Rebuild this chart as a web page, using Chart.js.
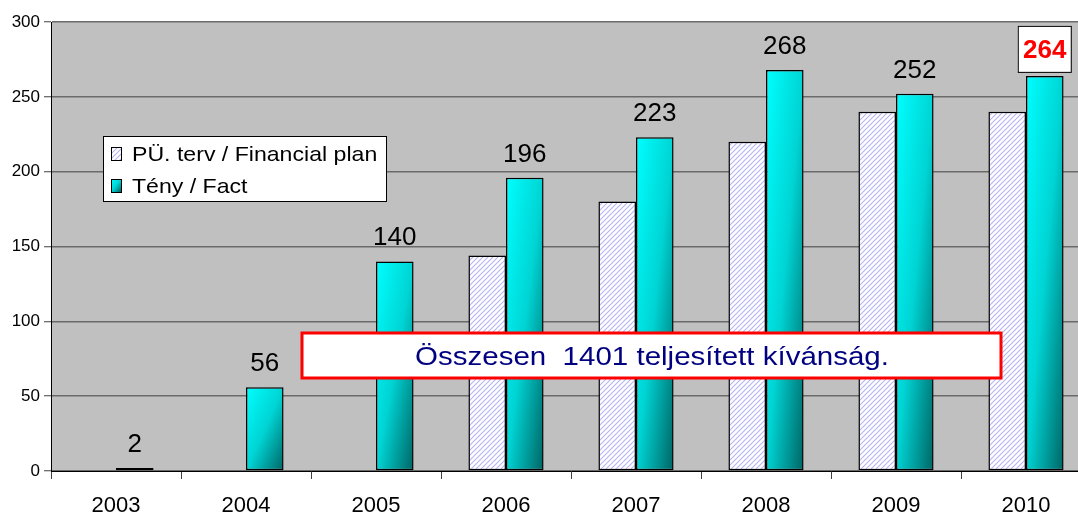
<!DOCTYPE html>
<html>
<head>
<meta charset="utf-8">
<script src="https://cdn.jsdelivr.net/npm/chart.js@4.4.1/dist/chart.umd.min.js"></script>
<style>
    html, body { margin: 0; padding: 0; background: #fff; overflow: hidden; }
    #wrap { width: 1100px; height: 515px; }
</style>
</head>
<body>
<div id="wrap"><canvas id="chart" width="1100" height="515"></canvas></div>
<script>
// Data
const years = ['2003', '2004', '2005', '2006', '2007', '2008', '2009', '2010'];
const planValues = [null, null, null, 144, 180, 220, 240, 240];
const factValues = [2, 56, 140, 196, 223, 268, 252, 264];
const yTicks = [0, 50, 100, 150, 200, 250, 300];
const seriesLabels = ['PÜ. terv / Financial plan', 'Tény / Fact'];
const noteText = 'Összesen  1401 teljesített kívánság.';
const highlightIndex = 7;

const FONT = "'Liberation Sans', Arial, sans-serif";
const CAT_PCT = 0.578;

const canvas = document.getElementById('chart');
const ctx = canvas.getContext('2d');

// Hatch pattern for the plan bars
function makeHatch() {
    const size = 5;
    const tile = document.createElement('canvas');
    tile.width = size;
    tile.height = size;
    const g = tile.getContext('2d');
    g.fillStyle = '#ffffff';
    g.fillRect(0, 0, size, size);
    g.strokeStyle = '#b4b4f4';
    g.lineWidth = 1.1;
    g.beginPath();
    g.moveTo(0, size); g.lineTo(size, 0);
    g.moveTo(-size / 2, size / 2); g.lineTo(size / 2, -size / 2);
    g.moveTo(size / 2, size * 1.5); g.lineTo(size * 1.5, size / 2);
    g.stroke();
    return ctx.createPattern(tile, 'repeat');
}
const hatch = makeHatch();

// Diagonal gradient, isolines along the bar's anti-diagonal
function factFill(c2d, x0, y0, w, h) {
    const k = 2 * w * h / (h * h + w * w);
    const g = c2d.createLinearGradient(x0, y0, x0 + h * k, y0 + w * k);
    g.addColorStop(0, '#00ffff');
    g.addColorStop(0.5, '#00d4d4');
    g.addColorStop(1, '#006464');
    return g;
}

function barWidth(xs) {
    return xs.width / years.length * CAT_PCT / 2;
}

// text slightly stretched sideways, like the original
function wideText(c, text, x, y, sx) {
    c.save();
    c.translate(x, y);
    c.scale(sx, 1);
    c.fillText(text, 0, 0);
    c.restore();
}

// Plot area background
const plotBackground = {
    id: 'plotBackground',
    beforeDraw(chart) {
        const a = chart.chartArea;
        const c = chart.ctx;
        c.save();
        c.fillStyle = '#c0c0c0';
        c.fillRect(a.left, a.top, a.right - a.left, a.bottom - a.top);
        c.restore();
    }
};

// Value labels, legend and note box
const overlays = {
    id: 'overlays',
    afterDatasetsDraw(chart) {
        const c = chart.ctx;
        const meta = chart.getDatasetMeta(1);
        c.save();

        // value labels over the fact bars
        meta.data.forEach((bar, i) => {
            const v = factValues[i];
            c.textAlign = 'center';
            c.textBaseline = 'alphabetic';
            if (i === highlightIndex) {
                const bx = bar.x - 27, by = bar.y - 50;
                c.fillStyle = '#ffffff';
                c.fillRect(bx, by, 53, 46);
                c.strokeStyle = '#000000';
                c.lineWidth = 1;
                c.strokeRect(bx + 0.5, by + 0.5, 53, 46);
                c.fillStyle = '#ff0000';
                c.font = 'bold 26px ' + FONT;
                c.fillText(String(v), bar.x, bar.y - 18);
            } else {
                c.fillStyle = '#000000';
                c.font = '26px ' + FONT;
                c.fillText(String(v), bar.x, bar.y - 16);
            }
        });

        // legend
        c.fillStyle = '#ffffff';
        c.fillRect(103, 136, 283, 65);
        c.strokeStyle = '#000000';
        c.lineWidth = 1;
        c.strokeRect(103.5, 136.5, 283, 65);
        const rows = [161, 193];
        rows.forEach((base, k) => {
            const mx = 111, my = base - 14, mw = 10, mh = 13;
            c.fillStyle = k === 0 ? hatch : factFill(c, mx, my, mw, mh);
            c.fillRect(mx, my, mw, mh);
            c.strokeStyle = '#000000';
            c.lineWidth = 1;
            c.strokeRect(mx + 0.5, my + 0.5, mw, mh);
            c.fillStyle = '#000000';
            c.font = '21px ' + FONT;
            c.textAlign = 'left';
            c.textBaseline = 'alphabetic';
            wideText(c, seriesLabels[k], 132, base, 1.1);
        });

        // note box
        c.fillStyle = '#ffffff';
        c.fillRect(302, 333, 699, 45);
        c.strokeStyle = '#ff0000';
        c.lineWidth = 3;
        c.strokeRect(302, 333, 699, 45);
        c.fillStyle = '#000080';
        c.font = '25px ' + FONT;
        c.textAlign = 'center';
        c.textBaseline = 'alphabetic';
        wideText(c, noteText, 652, 365, 1.18);

        c.restore();
    }
};

new Chart(ctx, {
    type: 'bar',
    data: {
        labels: years,
        datasets: [{
            label: seriesLabels[0],
            data: planValues,
            backgroundColor: hatch,
            borderColor: '#000000',
            borderWidth: 1.5,
            borderSkipped: false
        }, {
            label: seriesLabels[1],
            data: factValues,
            backgroundColor: c => {
                const xs = c.chart.scales.x, ys = c.chart.scales.y;
                if (!xs || !ys || c.type !== 'data') return '#00d4d4';
                const i = c.dataIndex;
                const x0 = xs.getPixelForValue(i);
                const top = ys.getPixelForValue(factValues[i]);
                const bottom = ys.getPixelForValue(0);
                const w = barWidth(xs);
                if (![x0, top, bottom, w].every(Number.isFinite) || w <= 0) return '#00d4d4';
                return factFill(c.chart.ctx, x0, top, w, Math.max(bottom - top, 1));
            },
            borderColor: '#000000',
            borderWidth: 1.5,
            borderSkipped: false
        }]
    },
    options: {
        responsive: false,
        animation: false,
        events: [],
        layout: {
            padding: { top: 22, right: 9, left: 0, bottom: 0 }
        },
        datasets: {
            bar: {
                categoryPercentage: CAT_PCT,
                barPercentage: 1
            }
        },
        plugins: {
            legend: { display: false },
            tooltip: { enabled: false }
        },
        scales: {
            x: {
                grid: {
                    offset: true,
                    drawOnChartArea: false,
                    drawTicks: true,
                    tickLength: 8,
                    tickColor: '#404040',
                    tickWidth: 1
                },
                border: { color: '#000000', width: 1 },
                ticks: {
                    color: '#000000',
                    font: { family: FONT, size: 22 },
                    padding: 14
                },
                afterFit: s => { s.height = 44; }
            },
            y: {
                min: 0,
                max: 300,
                afterBuildTicks: s => { s.ticks = yTicks.map(v => ({ value: v })); },
                grid: {
                    color: '#6a6a6a',
                    lineWidth: 1.5,
                    tickLength: 7,
                    tickColor: '#404040',
                    tickWidth: 1
                },
                border: { color: '#000000', width: 1 },
                ticks: {
                    color: '#000000',
                    font: { family: FONT, size: 17 },
                    padding: 4
                },
                afterFit: s => { s.width = 51; }
            }
        }
    },
    plugins: [plotBackground, overlays]
});
</script>
</body>
</html>
